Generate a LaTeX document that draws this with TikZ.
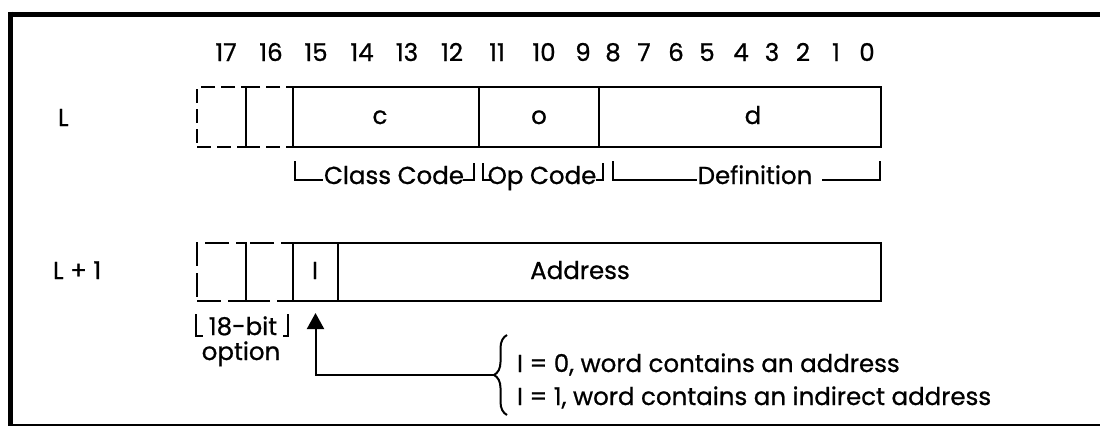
\documentclass[tikz,border=0pt]{standalone}
\usepackage{fontspec}
\setmainfont{Poppins}[FakeBold=0.8]
\usetikzlibrary{arrows.meta,decorations.pathreplacing}

\begin{document}
\begin{tikzpicture}[x=1pt,y=-1pt,
  every node/.style={font=\fontsize{24.5}{28}\selectfont, inner sep=0pt, outer sep=0pt},
  rule/.style={line width=2pt},
  field/.style={draw, line width=2pt, rectangle, minimum height=60pt},
  optcell/.style={draw, line width=2pt, rectangle, minimum height=60pt, dash pattern=on 14pt off 6pt},
  optcellb/.style={draw, line width=2pt, rectangle, minimum height=58pt, dash pattern=on 24pt off 7pt},
  txt/.style={anchor=base},
  bitnum/.style={anchor=base}
]
\useasboundingbox (0,0) rectangle (1100,426);

% page frame: heavy top and left rules, thin bottom rule
\draw[line width=5pt] (8,14) -- (1100,14);
\draw[line width=5pt] (10,11.5) -- (10,425);
\draw[line width=2pt] (8,424.5) -- (1100,424.5);

% bit numbering above word L
\foreach \n/\x in {17/226,16/271,15/316,14/362,13/407,12/452,11/497,10/544,9/583,
                   8/613,7/644,6/676,5/707,4/741,3/772,2/803,1/836,0/867}
  \node[bitnum] (n\n) at (\x,61) {\n};

% ---- word L ----
\node[txt, anchor=base west] (lblL) at (58,126) {L};
\node[optcell, minimum width=49pt] (l17) at (221.5,117) {};
\node[optcell, minimum width=47pt] (l16) at (269.5,117) {};
\node[field, minimum width=186pt] (fc) at (386,117) {};
\node[field, minimum width=120pt] (fo) at (539,117) {};
\node[field, minimum width=282pt] (fd) at (740,117) {};
\node[txt] (tc) at (380,124) {c};
\node[txt] (to) at (539,124) {o};
\node[txt] (td) at (753,124) {d};

% field brackets under word L
\node[txt] (cc) at (394,184) {Class Code};
\draw[rule] (295,161) |- (323,180);
\draw[rule] (463,180) -| (474,163);
\node[txt] (opc) at (542,184) {Op Code};
\draw[rule] (483,163) |- (491,180);
\draw[rule] (596,180) -| (603,163);
\node[txt] (def) at (755,184) {Definition};
\draw[rule] (613,161) |- (697,180);
\draw[rule] (822,180) -| (880,161);

% ---- word L + 1 ----
\node[txt, anchor=base west] (lblL1) at (53,279) {L + 1};
\node[optcellb, minimum width=49pt] (m17) at (221.5,272) {};
\node[optcellb, minimum width=47pt] (m16) at (269.5,272) {};
\node[field, minimum height=58pt, minimum width=45pt] (fi) at (315.5,272) {};
\node[field, minimum height=58pt, minimum width=543pt] (fa) at (609.5,272) {};
\node[txt] (ti) at (315,279) {I};
\node[txt] (ta) at (580,279) {Address};

% 18-bit option bracket
\node[txt] (opt18) at (243,335) {18-bit};
\draw[rule] (196,314) |- (203,336);
\draw[rule] (283,336) -| (288,314);
\node[txt] (optw) at (241,360) {option};

% indirect-bit note
\draw[rule, decorate, decoration={brace, amplitude=13pt}] (507,415) -- (507,335);
\coordinate (btip) at (494,375);
\draw[rule, -{Triangle[width=17pt,length=16pt]}] (btip) -| ([shift={(0,12)}]fi.south);
\node[txt, anchor=base west] (note0) at (517,372) {I = 0, word contains an address};
\node[txt, anchor=base west] (note1) at (517,405) {I = 1, word contains an indirect address};

\end{tikzpicture}
\end{document}
